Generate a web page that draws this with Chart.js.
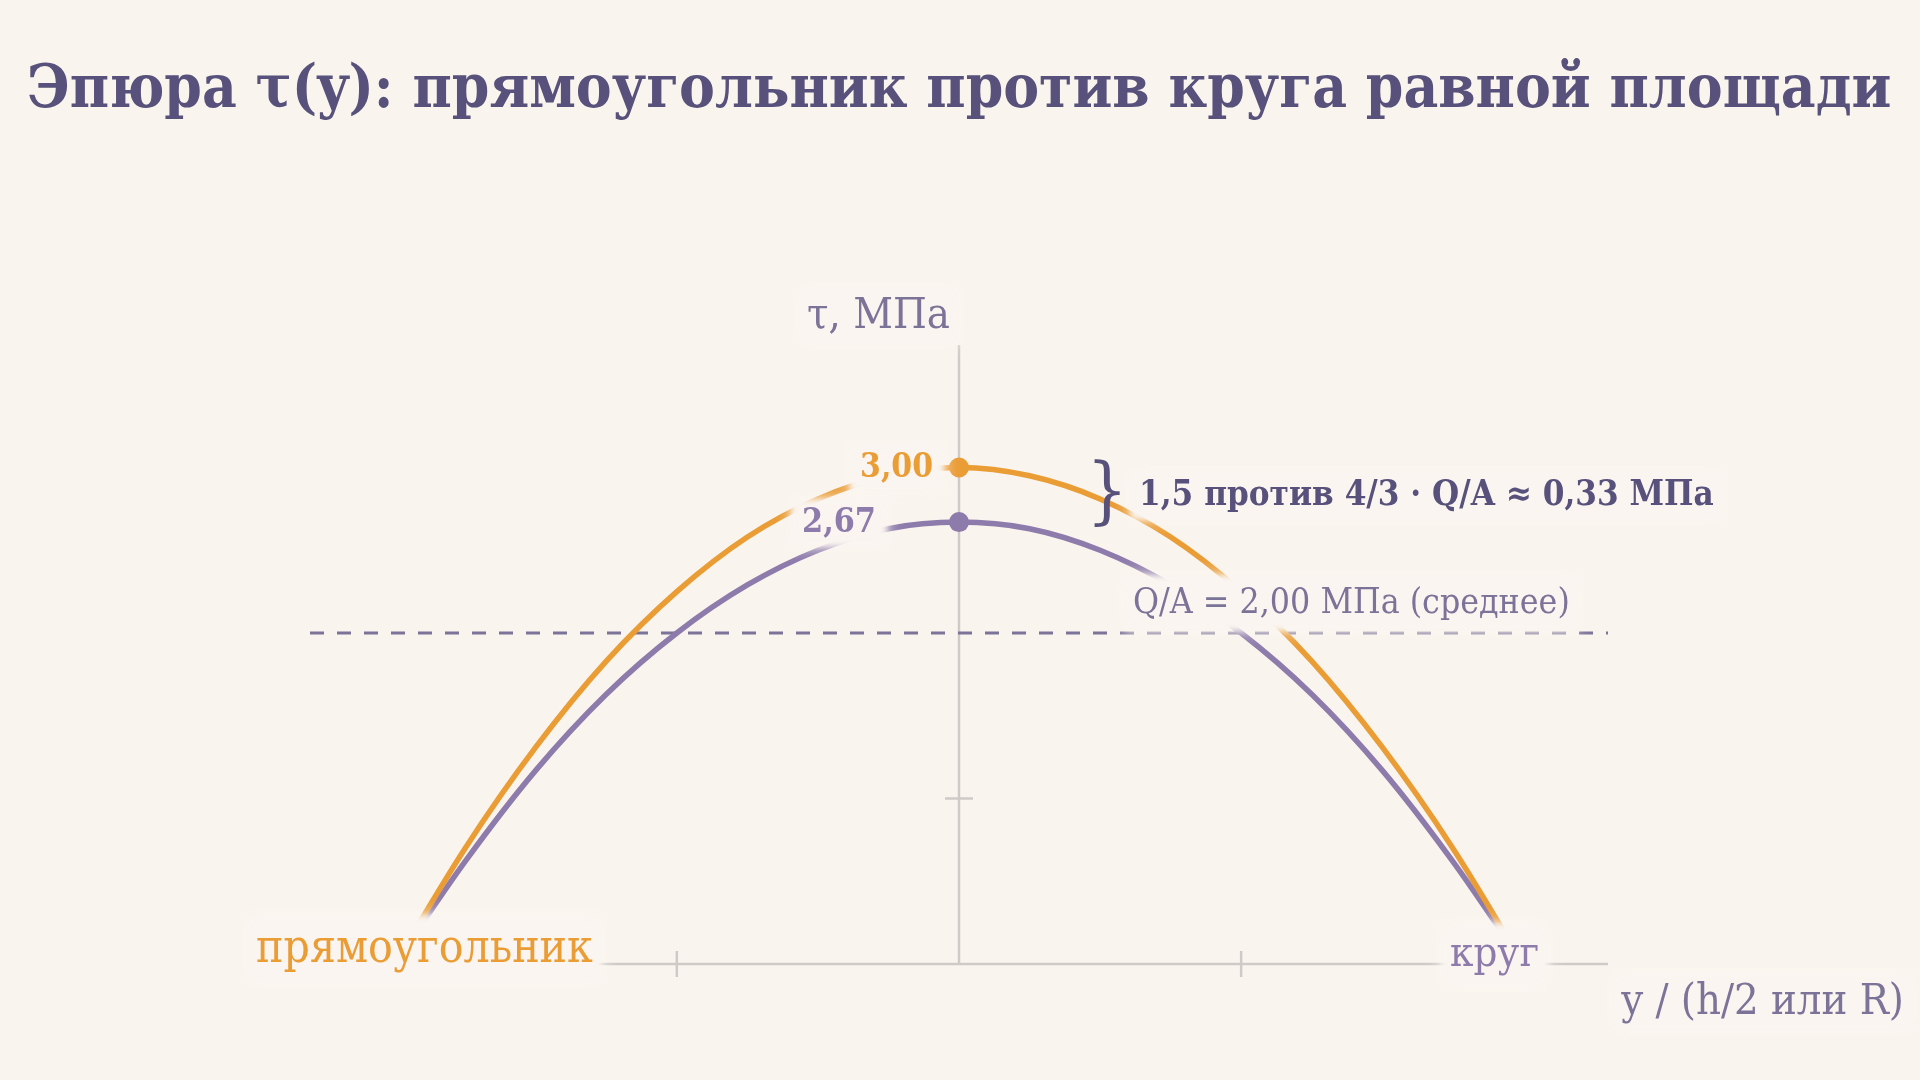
<!DOCTYPE html>
<html lang="ru">
<head>
<meta charset="utf-8">
<title>Эпюра τ(y)</title>
<script src="https://cdn.jsdelivr.net/npm/chart.js@4.4.1/dist/chart.umd.min.js"></script>
<style>
  html, body { margin: 0; padding: 0; background: #faf4ee; }
  #chart { display: block; }
</style>
</head>
<body>
<canvas id="chart" width="1920" height="1080"></canvas>
<script>
// положение по высоте сечения, y / (h/2 или R)
const yPos = [-1, -0.875, -0.75, -0.625, -0.5, -0.375, -0.25, -0.125, 0, 0.125, 0.25, 0.375, 0.5, 0.625, 0.75, 0.875, 1];
// касательные напряжения, МПа
const tauRect = [0, 0.70, 1.31, 1.83, 2.25, 2.58, 2.81, 2.95, 3.00, 2.95, 2.81, 2.58, 2.25, 1.83, 1.31, 0.70, 0];
const tauCircle = [0, 0.62, 1.17, 1.63, 2.00, 2.29, 2.50, 2.63, 2.67, 2.63, 2.50, 2.29, 2.00, 1.63, 1.17, 0.62, 0];
const meanTau = 2.00;
const xRange = [-1.15, 1.15];
const yRange = [0, 3.74];
const xTicks = [-0.5, 0.5];
const yTicks = [1];

const titleText = "Эпюра τ(y): прямоугольник против круга равной площади";
const yAxisTitle = "τ, МПа";
const xAxisTitle = "y / (h/2 или R)";
const rectLabel = "прямоугольник";
const circleLabel = "круг";
const peakRectLabel = "3,00";
const peakCircleLabel = "2,67";
const diffLabel = "1,5 против 4/3 · Q/A ≈ 0,33 МПа";
const meanLabel = "Q/A = 2,00 МПа (среднее)";

const HALO = "rgb(250,245,240)";
const ORANGE = "#ea9c35";
const PURPLE = "#8d7bac";
const INK = "#57517b";
const MUTED = "#7b7398";
const AXIS = "#cfcac8";
const SERIF = "'DejaVu Serif Condensed', 'DejaVu Serif', 'Liberation Serif', serif";

function toPoints(xs, ys) {
    return xs.map((x, i) => ({ x: x, y: ys[i] }));
}

function setFont(ctx, weight, size) {
    ctx.font = weight + " " + size + "px " + SERIF;
    if ("fontStretch" in ctx) ctx.fontStretch = "condensed";
}

// подбираем кегль под нужную ширину строки
function fitSize(ctx, text, weight, width) {
    setFont(ctx, weight, 100);
    return 100 * width / ctx.measureText(text).width;
}

// размытая подложка: рисуем только тень прямоугольника
function softBox(ctx, x, y, w, h, blur) {
    ctx.save();
    ctx.shadowColor = HALO;
    ctx.shadowBlur = blur;
    ctx.shadowOffsetX = 10000;
    ctx.fillStyle = HALO;
    ctx.fillRect(x - 10000, y, w, h);
    ctx.restore();
}

function drawLabel(ctx, text, x, baseline, o) {
    ctx.save();
    let size = fitSize(ctx, text, o.weight, o.width);
    setFont(ctx, o.weight, size);
    let w = ctx.measureText(text).width;
    let left = o.align === "right" ? x - w : x;
    if (o.halo !== false) {
        let padX = o.padX || 8, padY = o.padY || 6;
        softBox(ctx, left - padX, baseline - size * 0.78 - padY, w + 2 * padX, size * 1.02 + 2 * padY, o.blur || 16);
        softBox(ctx, left - padX, baseline - size * 0.78 - padY, w + 2 * padX, size * 1.02 + 2 * padY, 6);
    }
    ctx.fillStyle = o.color;
    ctx.textAlign = "left";
    ctx.textBaseline = "alphabetic";
    ctx.fillText(text, left, baseline);
    ctx.restore();
}

const axesPlugin = {
    id: "axesPlugin",
    beforeDatasetsDraw(chart) {
        let ctx = chart.ctx;
        let xs = chart.scales.x, ys = chart.scales.y;
        let x0 = xs.getPixelForValue(0), y0 = ys.getPixelForValue(0);
        ctx.save();
        ctx.strokeStyle = AXIS;
        ctx.lineWidth = 2.5;
        ctx.beginPath();
        ctx.moveTo(xs.getPixelForValue(xRange[0]), y0);
        ctx.lineTo(xs.getPixelForValue(xRange[1]), y0);
        ctx.moveTo(x0, y0);
        ctx.lineTo(x0, ys.getPixelForValue(yRange[1]));
        xTicks.forEach(t => {
            let px = xs.getPixelForValue(t);
            ctx.moveTo(px, y0 - 13);
            ctx.lineTo(px, y0 + 13);
        });
        yTicks.forEach(t => {
            let py = ys.getPixelForValue(t);
            ctx.moveTo(x0 - 14, py);
            ctx.lineTo(x0 + 14, py);
        });
        ctx.stroke();
        ctx.restore();
    },
    afterDatasetsDraw(chart) {
        let ctx = chart.ctx;
        let xs = chart.scales.x, ys = chart.scales.y;
        let x0 = xs.getPixelForValue(0);
        let yR = ys.getPixelForValue(tauRect[8]);
        let yC = ys.getPixelForValue(tauCircle[8]);
        let yM = ys.getPixelForValue(meanTau);

        drawLabel(ctx, titleText, 27, 107, { weight: "bold", width: 1865, color: INK, halo: false });
        drawLabel(ctx, yAxisTitle, x0 - 9, 328, { weight: "normal", width: 143, color: MUTED, align: "right" });
        drawLabel(ctx, xAxisTitle, 1904, 1014, { weight: "normal", width: 283, color: MUTED, align: "right" });

        drawLabel(ctx, peakRectLabel, x0 - 26, yR + 10, { weight: "bold", width: 73, color: ORANGE, align: "right", padX: 10 });
        drawLabel(ctx, peakCircleLabel, x0 - 83, yC + 10, { weight: "bold", width: 74, color: PURPLE, align: "right", padX: 10 });

        drawLabel(ctx, meanLabel, 1133, yM - 20, { weight: "normal", width: 437, color: MUTED, padY: 9 });
        drawLabel(ctx, diffLabel, 1139, 505, { weight: "bold", width: 575, color: INK });

        // фигурная скобка между двумя пиками
        ctx.save();
        setFont(ctx, "normal", 72);
        ctx.fillStyle = INK;
        ctx.textAlign = "center";
        ctx.textBaseline = "middle";
        ctx.fillText("}", 1107, (yR + yC) / 2 + 2);
        ctx.restore();

        drawLabel(ctx, rectLabel, 256, 962, { weight: "normal", width: 337, color: ORANGE, padY: 10 });
        drawLabel(ctx, circleLabel, 1450, 966, { weight: "normal", width: 89, color: PURPLE, padY: 10 });
    }
};

const peakRadius = c => (c.raw && c.raw.x === 0 ? 10 : 0);

const data = {
    datasets: [
        {
            label: rectLabel,
            data: toPoints(yPos, tauRect),
            borderColor: ORANGE,
            backgroundColor: ORANGE,
            borderWidth: 5.5,
            pointRadius: peakRadius,
            pointBorderWidth: 0,
            cubicInterpolationMode: "monotone",
            showLine: true,
            order: 0
        },
        {
            label: circleLabel,
            data: toPoints(yPos, tauCircle),
            borderColor: PURPLE,
            backgroundColor: PURPLE,
            borderWidth: 5.5,
            pointRadius: peakRadius,
            pointBorderWidth: 0,
            cubicInterpolationMode: "monotone",
            showLine: true,
            order: 1
        },
        {
            label: meanLabel,
            data: toPoints(xRange, [meanTau, meanTau]),
            borderColor: MUTED,
            borderWidth: 3,
            borderDash: [14, 13],
            pointRadius: 0,
            showLine: true,
            order: 2
        }
    ]
};

const options = {
    responsive: false,
    devicePixelRatio: 1,
    animation: false,
    events: [],
    layout: { padding: { left: 310, right: 312, top: 345, bottom: 116 } },
    plugins: {
        legend: { display: false },
        tooltip: { enabled: false },
        title: { display: false }
    },
    scales: {
        x: { type: "linear", min: xRange[0], max: xRange[1], display: false },
        y: { type: "linear", min: yRange[0], max: yRange[1], display: false }
    }
};

const chart = new Chart(document.getElementById("chart"), {
    type: "scatter",
    data: data,
    options: options,
    plugins: [axesPlugin]
});
</script>
</body>
</html>
